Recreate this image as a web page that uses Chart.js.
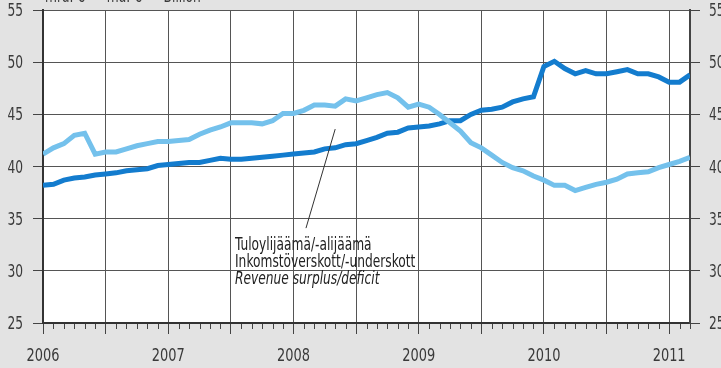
<!DOCTYPE html>
<html>
<head>
<meta charset="utf-8">
<script src="https://cdn.jsdelivr.net/npm/chart.js@4.4.1/dist/chart.umd.min.js"></script>
<style>
  html, body { margin: 0; padding: 0; background: #e3e3e3; }
  #wrap { width: 721px; height: 368px; position: relative; }
</style>
</head>
<body>
<div id="wrap"><canvas id="chart" width="721" height="368"></canvas></div>
<script>
// Monthly series, Jan 2006 .. Mar 2011 (index 0 = Jan 2006)
const yearLabels = ['2006', '2007', '2008', '2009', '2010', '2011'];
const yTicks = [25, 30, 35, 40, 45, 50, 55];

// dark blue line
const revenue = [
  38.2, 38.3, 38.7, 38.9, 39.0, 39.2, 39.3, 39.4, 39.6, 39.7, 39.8, 40.1,
  40.2, 40.3, 40.4, 40.4, 40.6, 40.8, 40.7, 40.7, 40.8, 40.9, 41.0, 41.1,
  41.2, 41.3, 41.4, 41.7, 41.8, 42.1, 42.2, 42.5, 42.8, 43.2, 43.3, 43.7,
  43.8, 43.9, 44.1, 44.4, 44.4, 45.0, 45.4, 45.5, 45.7, 46.2, 46.5, 46.7,
  49.6, 50.1, 49.4, 48.9, 49.2, 48.9, 48.9, 49.1, 49.3, 48.9, 48.9, 48.6,
  48.1, 48.1, 48.8
];
// light blue line
const expenditure = [
  41.2, 41.8, 42.2, 43.0, 43.2, 41.2, 41.4, 41.4, 41.7, 42.0, 42.2, 42.4,
  42.4, 42.5, 42.6, 43.1, 43.5, 43.8, 44.2, 44.2, 44.2, 44.1, 44.4, 45.1,
  45.1, 45.4, 45.9, 45.9, 45.8, 46.5, 46.3, 46.6, 46.9, 47.1, 46.6, 45.7,
  46.0, 45.7, 45.0, 44.2, 43.4, 42.3, 41.8, 41.1, 40.4, 39.9, 39.6, 39.1,
  38.7, 38.2, 38.2, 37.7, 38.0, 38.3, 38.5, 38.8, 39.3, 39.4, 39.5, 39.9,
  40.2, 40.5, 40.9
];
const noteLines = ['Tuloylijäämä/-alijäämä', 'Inkomstöverskott/-underskott', 'Revenue surplus/deficit'];
const unitText = 'mrd. €  –  md. €  –  Billion';

const FONT = '"DejaVu Sans Condensed", "Liberation Sans Narrow", sans-serif';
const SQUEEZE = 0.8; // the original uses a condensed face
const lastIdx = revenue.length - 1;

const pts = arr => arr.map((v, i) => ({ x: i, y: v }));

function narrowText(ctx, text, x, y, align, font) {
  ctx.save();
  ctx.font = font;
  ctx.textAlign = align;
  ctx.textBaseline = 'alphabetic';
  ctx.translate(x, y);
  ctx.scale(SQUEEZE, 1);
  ctx.fillText(text, 0, 0);
  ctx.restore();
}

const decor = {
  id: 'decor',
  beforeDraw(chart) {
    const { ctx, chartArea: a } = chart;
    ctx.save();
    ctx.fillStyle = '#fff';
    ctx.fillRect(a.left, a.top, a.right - a.left, a.bottom - a.top);
    ctx.restore();
  },
  afterDraw(chart) {
    const { ctx, chartArea: a } = chart;
    const xs = chart.scales.x, ys = chart.scales.y;
    ctx.save();
    // monthly minor ticks
    ctx.strokeStyle = '#444';
    ctx.lineWidth = 1;
    for (let i = 0; i <= lastIdx; i++) {
      if (i % 6 === 0) continue;
      const px = Math.round(xs.getPixelForValue(i)) + 0.5;
      ctx.beginPath();
      ctx.moveTo(px, a.bottom + 1);
      ctx.lineTo(px, a.bottom + 6);
      ctx.stroke();
    }
    ctx.fillStyle = '#3a3a3a';
    const tickFont = '17px ' + FONT;
    // y labels both sides
    yTicks.forEach(v => {
      const py = ys.getPixelForValue(v) + 6;
      narrowText(ctx, String(v), a.left - 20, py, 'right', tickFont);
      narrowText(ctx, String(v), a.right + 19, py, 'left', tickFont);
    });
    // year labels
    yearLabels.forEach((t, k) => {
      narrowText(ctx, t, xs.getPixelForValue(k * 12), a.bottom + 38, 'center', '18px ' + FONT);
    });
    // unit text (cut by top edge)
    narrowText(ctx, unitText, a.left + 2, 2, 'left', '17px ' + FONT);
    // leader line
    ctx.strokeStyle = '#333';
    ctx.beginPath();
    ctx.moveTo(xs.getPixelForValue(28.0), ys.getPixelForValue(43.6));
    ctx.lineTo(xs.getPixelForValue(25.2), ys.getPixelForValue(34.1));
    ctx.stroke();
    // note text
    const tx = xs.getPixelForValue(18.4);
    const ty = ys.getPixelForValue(32.0);
    ctx.fillStyle = '#222';
    noteLines.forEach((t, k) => {
      narrowText(ctx, t, tx, ty + k * 17, 'left', (k === 2 ? 'italic ' : '') + '17px ' + FONT);
    });
    ctx.restore();
  }
};

new Chart(document.getElementById('chart'), {
  type: 'line',
  data: {
    datasets: [
      { label: 'expenditure', data: pts(expenditure), borderColor: '#74c1ec', borderWidth: 5, pointRadius: 0, tension: 0 },
      { label: 'revenue', data: pts(revenue), borderColor: '#137cce', borderWidth: 5, pointRadius: 0, tension: 0 }
    ]
  },
  options: {
    responsive: false,
    animation: false,
    layout: { padding: { top: 9, bottom: 0, left: 0, right: 0 } },
    plugins: { legend: { display: false }, tooltip: { enabled: false } },
    scales: {
      x: {
        type: 'linear', min: 0, max: lastIdx,
        afterFit: s => { s.height = 45; },
        border: { color: '#333', width: 2 },
        grid: { color: '#555', lineWidth: 1, tickLength: 11, tickColor: '#444' },
        ticks: { stepSize: 6, includeBounds: false, autoSkip: false, maxRotation: 0, color: 'rgba(0,0,0,0)' }
      },
      y: {
        position: 'left', min: 25, max: 55,
        afterFit: s => { s.width = 43; },
        border: { color: '#333', width: 2 },
        grid: { color: '#555', lineWidth: 1, tickLength: 10, tickColor: '#444' },
        ticks: { stepSize: 5, color: 'rgba(0,0,0,0)' }
      },
      y2: {
        position: 'right', min: 25, max: 55,
        afterFit: s => { s.width = 31; },
        border: { color: '#444', width: 2 },
        grid: { drawOnChartArea: false, tickLength: 10, tickColor: '#444' },
        ticks: { stepSize: 5, color: 'rgba(0,0,0,0)' }
      }
    }
  },
  plugins: [decor]
});
</script>
</body>
</html>
